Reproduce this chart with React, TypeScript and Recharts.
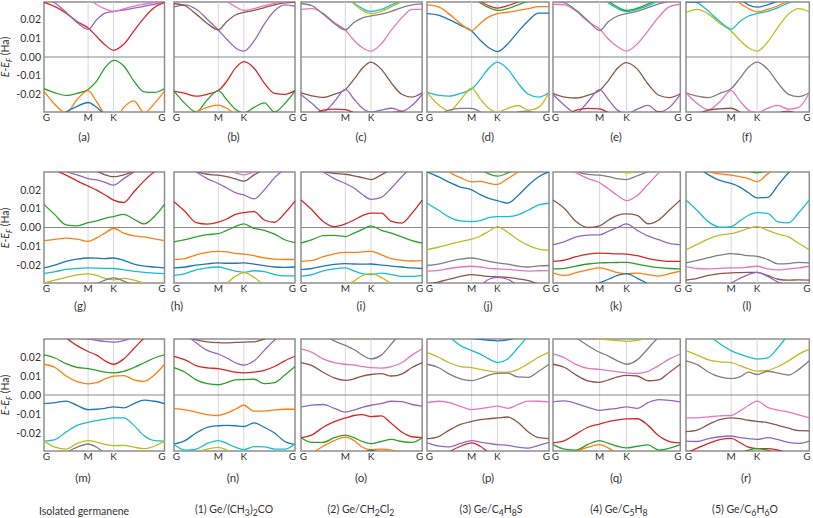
import React from 'react';
import { LineChart, Line, XAxis, YAxis, ReferenceLine, ReferenceArea } from 'recharts';

// matplotlib tab10
const BLUE = '#1f77b4';
const ORANGE = '#ff7f0e';
const GREEN = '#2ca02c';
const RED = '#d62728';
const PURPLE = '#9467bd';
const BROWN = '#8c564b';
const PINK = '#e377c2';
const GRAY = '#7f7f7f';
const OLIVE = '#bcbd22';
const CYAN = '#17becf';

// k-path distance along G-M-K-G (G-M = 1/sqrt3, M-K = 1/3, K-G = 2/3)
const kPath = [0, 0.1443, 0.2887, 0.433, 0.5774, 0.6885, 0.7996, 0.9107, 1.044, 1.1774, 1.3107, 1.444, 1.5774];
const kTicks = [0, 0.5774, 0.9107, 1.5774];
const kM = 0.5774;
const kK = 0.9107;
const kEnd = 1.5774;
// energies in mHa
const eTicks = [-20, -10, 0, 10, 20];
const eMin = -29.5;
const eMax = 29.5;

type Band = { c: string; e: number[] };

const bandsA: Band[] = [
  { c: GREEN, e: [-17, -19.2, -20.6, -19.5, -17.4, -12.9, -5.7, -1.8, -4.8, -12.9, -18.7, -19.0, -17] },
  { c: ORANGE, e: [-18.3, -25.5, -30, -22.8, -18, -24, -31, -35, -27, -23.5, -30, -25, -18.3] },
  { c: BLUE, e: [-38, -34, -29.5, -26.5, -24.4, -27, -31, -35, -38, -38, -38, -38, -38] },
  { c: RED, e: [29.3, 27, 23.5, 19, 15.6, 11, 6.5, 3.6, 6.8, 14, 21, 26.5, 29.3] },
  { c: PURPLE, e: [32, 29, 24, 18.5, 14.8, 20, 23.5, 24.4, 25.2, 26.2, 27.2, 28.2, 30] },
  { c: PINK, e: [40, 38, 36, 34, 32, 28, 25.8, 24.5, 25.8, 27.3, 28.3, 29.2, 30] },
];

const bandsB: Band[] = [
  { c: RED, e: [-18.3, -19.5, -21, -20, -18, -13, -6, -2.5, -6, -14, -19.5, -20, -18] },
  { c: GREEN, e: [-18.3, -25, -29.5, -23, -18, -23, -28, -30, -27, -24.6, -29.5, -25, -18.3] },
  { c: ORANGE, e: [-34, -32, -29.5, -27, -25.8, -27.5, -30.5, -33, -36, -36, -36, -36, -36] },
  { c: PURPLE, e: [26.9, 28, 25.6, 20.3, 14.5, 9.5, 5, 3.2, 8.6, 17.6, 24.8, 28, 27.2] },
  { c: BROWN, e: [28.7, 27.5, 23, 18, 14.6, 19, 22.5, 23.9, 25, 26.5, 28, 29, 29.5] },
  { c: PINK, e: [40, 38, 36, 34, 33, 30, 27, 25, 26, 27.5, 28.8, 29.5, 30] },
];

const bandsC: Band[] = [
  { c: BROWN, e: [-19.2, -20.8, -21.7, -20, -17.4, -12, -6, -2.7, -6.5, -14, -20, -21.5, -19.2] },
  { c: PURPLE, e: [-20.1, -25, -29.3, -24, -17.4, -22.5, -27.5, -29.6, -28.5, -27.5, -29, -26, -20.1] },
  { c: RED, e: [-36, -32, -28.5, -28, -28.2, -30, -33, -35, -31, -29.8, -29.5, -32, -36] },
  { c: PINK, e: [25.6, 26, 23.5, 18.5, 14.5, 9, 5, 3.2, 7, 14.5, 21, 25.5, 25.6] },
  { c: GRAY, e: [28.7, 27.5, 23, 18, 14.6, 18.5, 21, 22, 23, 24.5, 26.5, 28, 28.5] },
  { c: CYAN, e: [40, 39, 38, 36, 34, 29, 26, 24.4, 25.5, 28, 30, 33, 36] },
  { c: OLIVE, e: [40, 39, 37, 35, 33, 28.5, 25, 23.3, 24.5, 27, 29.5, 32, 35] },
];

const bandsD: Band[] = [
  { c: CYAN, e: [-18.8, -20.5, -21, -19.5, -17.2, -12, -6, -2.7, -6.5, -14, -20, -21.5, -19] },
  { c: OLIVE, e: [-19, -25.5, -29, -23, -16.7, -22.5, -27.5, -29.6, -27.5, -26, -28.5, -27, -19] },
  { c: GRAY, e: [-36, -31.5, -28.5, -27.6, -27.6, -29.5, -33, -35, -33, -29.5, -29, -32, -36] },
  { c: BLUE, e: [23.3, 22.5, 20, 17, 14, 9, 5, 2.9, 7, 13.5, 19.5, 23.5, 23.5] },
  { c: ORANGE, e: [28, 27, 23, 18, 14.2, 18, 21.5, 23.3, 24, 25, 26, 27, 27] },
  { c: GREEN, e: [40, 38, 36, 34, 33, 29, 26.5, 25, 26, 28, 30, 32, 34] },
  { c: RED, e: [42, 40, 38, 36, 34, 30, 27.5, 26.2, 27.5, 29.5, 32, 34, 36] },
];

const bandsE: Band[] = [
  { c: BROWN, e: [-19.7, -21.5, -22, -20.5, -18, -12.5, -6, -3, -6.5, -14.5, -20.5, -21.8, -19.7] },
  { c: PURPLE, e: [-20, -26, -30, -24, -17.5, -23, -28.5, -30.5, -28, -26, -29.5, -27, -20] },
  { c: RED, e: [-36, -32, -28.5, -27.6, -27.8, -30, -33, -35, -34, -31, -29.5, -31, -34] },
  { c: PINK, e: [28.3, 28, 24.5, 19, 15, 9.5, 5.5, 3.2, 7, 14, 21.5, 27, 28.3] },
  { c: GRAY, e: [30, 29, 25, 19.5, 14.2, 19, 22, 23.3, 24.5, 26.5, 28.5, 30, 31] },
  { c: CYAN, e: [40, 39, 37, 35, 34, 29, 26, 24.4, 25.5, 27.5, 30, 32, 34] },
  { c: GREEN, e: [41, 40, 38, 36, 35, 30, 26.8, 25, 26.2, 28.5, 31, 33, 35] },
];

const bandsF: Band[] = [
  { c: GRAY, e: [-19.2, -21, -21.8, -19.5, -17, -11.5, -5.5, -2.7, -6.5, -14, -20, -21.3, -19.2] },
  { c: PINK, e: [-19.2, -25, -28.2, -24, -18, -23.5, -28.5, -30, -27.5, -26, -28, -27, -19.2] },
  { c: BROWN, e: [-36, -31, -28.5, -27.8, -27.5, -29.5, -33, -36, -33, -30, -29, -31, -35] },
  { c: OLIVE, e: [23.9, 25.5, 23, 18, 14, 9, 5, 3.2, 8, 16, 23, 26, 24.2] },
  { c: CYAN, e: [31, 29.2, 24.5, 19, 15, 19, 22, 23.3, 24.5, 26.5, 29, 31, 33] },
  { c: ORANGE, e: [40, 39, 37, 35, 34, 29, 26, 24.2, 25.5, 27.5, 30, 32, 34] },
  { c: BLUE, e: [29.6, 29.5, 30.5, 33, 35, 31, 28, 26.8, 28, 30, 32, 34, 36] },
];

const bandsG: Band[] = [
  { c: GREEN, e: [12.3, 6.7, 1.4, 0.9, 2.6, 3.5, 4.9, 5.8, 7, 4.4, 1.9, 5.8, 12.3] },
  { c: ORANGE, e: [-7, -6.3, -5.6, -6.2, -7.4, -5.5, -3, -0.4, -3, -4.5, -5, -6, -7] },
  { c: BLUE, e: [-21.5, -20, -18, -16.8, -16.2, -16.3, -16.5, -16.2, -17.5, -19.5, -20.5, -21, -21.5] },
  { c: CYAN, e: [-24.5, -23.5, -22.3, -21.8, -21.5, -21.6, -21.7, -21.8, -22.5, -23.3, -23.8, -24.2, -24.5] },
  { c: OLIVE, e: [-29.4, -28, -26.5, -25.2, -24.6, -25.5, -27, -27.8, -27, -28, -29.5, -30.5, -29.4] },
  { c: GRAY, e: [-40, -38, -36, -34, -33, -30, -28, -26.8, -28.5, -31, -34, -36, -38] },
  { c: RED, e: [33, 30.5, 27.8, 24.8, 22, 19.9, 17.3, 14.6, 13.3, 19, 24.8, 29.6, 33] },
  { c: PURPLE, e: [40, 36, 30, 28, 26, 25.3, 24, 22.5, 26, 29.5, 33, 36, 40] },
  { c: BROWN, e: [42, 40, 37, 34, 32, 30, 28, 27, 28, 30, 33, 36, 40] },
];

const bandsH: Band[] = [
  { c: RED, e: [13.7, 8.5, 2.6, 1.8, 2.8, 4.5, 7, 7.9, 8.4, 4, 2.8, 7.6, 14] },
  { c: GREEN, e: [-7.7, -6.5, -5, -3.8, -3.3, -1.5, 0.5, 1.9, -0.5, -1.5, -3.5, -6.5, -8] },
  { c: ORANGE, e: [-17, -16.5, -14.5, -13.2, -12.7, -13, -13.8, -14.1, -15, -16.2, -16.8, -17, -17] },
  { c: BLUE, e: [-21.5, -21, -20, -19.3, -18.8, -19, -19, -18.8, -19.5, -20.3, -21, -21.2, -21] },
  { c: CYAN, e: [-25.5, -24.5, -22.5, -21.5, -21, -22, -23.2, -23.8, -23, -23.5, -25, -25.7, -25.7] },
  { c: OLIVE, e: [-40, -38, -36, -33, -31, -29.5, -26, -24, -26.5, -31, -35, -38, -40] },
  { c: PURPLE, e: [36, 33, 29.5, 26, 23.4, 21, 18.5, 17.3, 15.2, 20, 26.5, 31, 35] },
  { c: BROWN, e: [38, 34, 30, 28.3, 27.8, 27, 25.8, 24.6, 28, 31, 34, 37, 40] },
  { c: PINK, e: [42, 40, 38, 36, 34, 31, 29, 28, 29.5, 31, 34, 37, 40] },
];

const bandsI: Band[] = [
  { c: RED, e: [14.6, 9.3, 3.2, 0.5, 1.9, 4, 6.3, 7.6, 7.6, 3.2, 2.3, 7.6, 14.6] },
  { c: GREEN, e: [-8.3, -6.5, -4.3, -4.2, -4.8, -3, -1, 0.9, -1.5, -3, -5, -7, -8.3] },
  { c: ORANGE, e: [-18, -17.5, -15.5, -14, -13.2, -13.2, -13, -12.7, -14.5, -16.5, -17.5, -17.8, -17.6] },
  { c: BLUE, e: [-22.4, -21.8, -20.5, -19.6, -19.2, -19.4, -19.5, -19.4, -20, -20.5, -21, -21.5, -21.8] },
  { c: CYAN, e: [-25.9, -25, -23, -22, -21.5, -23, -24.5, -25, -24.3, -25, -26, -26, -25.5] },
  { c: OLIVE, e: [-40, -38, -36, -33, -31, -28.5, -25.5, -24.5, -26.5, -30, -34, -38, -40] },
  { c: PURPLE, e: [36, 33, 29.5, 26, 23.4, 21, 17.5, 15, 16, 21, 27, 32, 36] },
  { c: BROWN, e: [40, 35, 30, 28.8, 28.3, 27.5, 26.5, 25.5, 28, 31, 34, 37, 40] },
  { c: PINK, e: [42, 40, 38, 36, 34, 31, 30.5, 29.5, 31, 34, 37, 40, 42] },
];

const bandsJ: Band[] = [
  { c: OLIVE, e: [-11.8, -10.5, -9, -7.5, -6.2, -4.5, -2, 0.5, -2.5, -6.5, -9.5, -11.5, -12.1] },
  { c: GRAY, e: [-20.2, -19.5, -18, -16.8, -16.2, -17, -18, -18.8, -19.5, -20.5, -21, -20.4, -20.2] },
  { c: PINK, e: [-23.2, -22.8, -21.8, -21, -20.6, -21, -21.7, -22, -22.3, -22.8, -23.2, -23, -22.9] },
  { c: BROWN, e: [-30, -29, -27.5, -26, -25, -25.5, -26, -26.2, -26.5, -27.3, -28.3, -30, -31] },
  { c: PURPLE, e: [-40, -38, -36, -34, -33, -31, -27.5, -26.5, -27.5, -31, -35, -38, -40] },
  { c: CYAN, e: [12.9, 9.3, 5.5, 3.5, 3.2, 3.7, 5.3, 5.8, 5.8, 6.7, 9.3, 12, 12.9] },
  { c: BLUE, e: [29.6, 27, 24, 21.5, 20, 17.5, 15.5, 14.3, 13, 17, 22.5, 27, 29.6] },
  { c: ORANGE, e: [40, 36, 29.5, 26.5, 24.3, 24.5, 23.5, 22.9, 26, 29.5, 33, 37, 40] },
  { c: GREEN, e: [42, 40, 38, 35, 33, 31, 28.5, 27.3, 29, 32, 35, 38, 42] },
];

const bandsK: Band[] = [
  { c: BROWN, e: [14.6, 10, 3, 0, 0.9, 4, 6.5, 7.2, 6.5, 2, 4, 9.3, 14.6] },
  { c: PURPLE, e: [-9.2, -7.5, -5, -4, -3.9, -2, 0, 1.9, -1.5, -4.5, -6.5, -8.5, -9.2] },
  { c: RED, e: [-18, -17.3, -15.5, -14.2, -13.6, -13.8, -14, -14.1, -15, -16.5, -17.5, -18, -18] },
  { c: GREEN, e: [-22, -21.7, -20.5, -19.4, -18.8, -18.7, -18.6, -18.5, -19.5, -20.5, -21.3, -21.8, -22] },
  { c: ORANGE, e: [-24.1, -25.5, -24, -22.5, -21.5, -22.5, -24, -24.6, -24.3, -25, -25.8, -24.5, -23.2] },
  { c: BLUE, e: [-40, -38, -35, -32, -29.4, -27.5, -25.5, -24.5, -27, -30, -34, -38, -40] },
  { c: PINK, e: [35, 32, 29, 26, 23.8, 20.5, 17, 14.3, 17, 23, 29, 33, 36] },
  { c: GRAY, e: [40, 35, 30, 28.2, 27.8, 27, 26, 25.5, 27.5, 29.8, 33, 36, 40] },
  { c: OLIVE, e: [42, 40, 38, 35, 33, 31, 30, 29, 30, 32, 35, 38, 42] },
];

const bandsL: Band[] = [
  { c: CYAN, e: [14.6, 9, 3, 0.2, 0.5, 3.5, 6.5, 7.9, 7.5, 3, 2.5, 8, 14.6] },
  { c: OLIVE, e: [-11.8, -9, -6, -4, -3.3, -2, -0.5, 0.5, -1.5, -3.5, -5, -8.5, -11.8] },
  { c: GRAY, e: [-18.8, -17.5, -16, -14.7, -13.9, -14.3, -15, -15.3, -17, -19.3, -19.2, -18.5, -18.8] },
  { c: PINK, e: [-20.6, -21.8, -22, -21.7, -21.5, -21.5, -21, -20.6, -22, -22.5, -22, -21.5, -20.6] },
  { c: BROWN, e: [-28, -27, -25.5, -24.5, -24.1, -24, -23.9, -23.8, -25.5, -27.5, -28, -27.8, -28] },
  { c: PURPLE, e: [-40, -37, -34, -31.5, -29.5, -27, -25, -23.9, -26, -29, -31, -35, -38] },
  { c: BLUE, e: [35, 32, 28, 25, 23.4, 21.5, 18.5, 15.8, 16, 22.5, 29, 33, 36] },
  { c: ORANGE, e: [38, 34, 29.5, 28.5, 27.8, 27, 26, 24.3, 28.5, 32, 35, 38, 40] },
  { c: GREEN, e: [42, 40, 38, 35, 33, 31, 30, 29, 30.5, 33, 36, 39, 42] },
];

const bandsM: Band[] = [
  { c: GREEN, e: [21.1, 19.5, 16.5, 14.5, 13.9, 13, 12, 11.7, 12.5, 14.5, 17, 19.5, 21.1] },
  { c: ORANGE, e: [16.2, 14.5, 10, 7, 5.9, 6.5, 8.5, 9.9, 10.2, 8, 7.2, 10.5, 16.2] },
  { c: RED, e: [36, 33, 30, 26, 22.9, 21, 18, 16.2, 19, 24.5, 30, 34, 38] },
  { c: PURPLE, e: [34, 32, 31, 30, 29.4, 28.8, 28.2, 27.9, 28.7, 30.5, 32, 34, 36] },
  { c: BLUE, e: [-4.5, -4, -3.2, -5.5, -7.7, -7.5, -7, -6.3, -6.8, -4.5, -2.7, -3.3, -4.5] },
  { c: CYAN, e: [-24.3, -23.5, -19.5, -16, -14.4, -13.5, -12.7, -12.1, -12, -16, -21.5, -24, -24.3] },
  { c: OLIVE, e: [-24.3, -27.5, -28.5, -25.5, -24, -24.8, -26, -26.7, -26.5, -27.5, -28.3, -27, -24.3] },
  { c: GRAY, e: [-40, -37, -30.5, -27.5, -25.8, -27.5, -30.5, -33, -36, -38, -40, -40, -40] },
];

const bandsN: Band[] = [
  { c: PURPLE, e: [36, 32, 27.5, 23.5, 21.6, 19.5, 17, 15.7, 18, 23.5, 29, 33, 36] },
  { c: BROWN, e: [34, 31, 29, 28, 27.6, 27.5, 27.7, 27.9, 28, 29.5, 31, 33, 35] },
  { c: RED, e: [20.4, 18.5, 15.5, 14.3, 13.9, 13, 12, 11.7, 12, 13, 15, 18, 20.4] },
  { c: GREEN, e: [14.4, 12, 8, 6, 5.4, 6.5, 8, 8.1, 8.3, 6, 6.5, 10.5, 15] },
  { c: ORANGE, e: [-7.2, -7.8, -9, -10.3, -10.8, -9.5, -7.5, -5.4, -8.5, -8.5, -7.8, -7.5, -7.5] },
  { c: BLUE, e: [-25.8, -24, -20, -17, -16.2, -16, -16.2, -16.6, -14.7, -17, -20, -24.5, -26] },
  { c: CYAN, e: [-26.1, -29, -28.5, -25.5, -24, -25.5, -27.5, -28.8, -27.2, -27.3, -28.5, -28.5, -25.8] },
  { c: OLIVE, e: [-40, -36, -30.5, -28.5, -27.6, -29, -31, -34, -38, -40, -40, -40, -40] },
];

const bandsO: Band[] = [
  { c: GRAY, e: [38, 35, 32, 28.5, 26.1, 24, 21, 19, 21, 27, 33, 36, 40] },
  { c: OLIVE, e: [36, 34, 32, 31, 29.8, 29.6, 29.8, 30.5, 32, 34, 36, 38, 40] },
  { c: PINK, e: [24.3, 22.5, 19, 17, 16.2, 15.8, 15, 14.4, 14.2, 15, 17, 21, 24.3] },
  { c: BROWN, e: [17.1, 15.5, 12, 9, 7.7, 8.5, 10, 10.8, 11.3, 10, 11, 14.5, 17.1] },
  { c: PURPLE, e: [-6.3, -5.3, -5, -7, -9, -8, -6.5, -5.4, -4.5, -3.3, -3.5, -5, -5.9] },
  { c: RED, e: [-22.5, -21, -17, -14, -12.1, -10.8, -10.3, -11.4, -11, -15, -19.5, -22, -22.5] },
  { c: GREEN, e: [-22.5, -25, -25, -22.5, -21.1, -22.5, -24.5, -25.6, -24.5, -23.4, -24.5, -25, -22.5] },
  { c: ORANGE, e: [-33, -30.5, -27, -24, -22.2, -24, -27.5, -28.8, -28.5, -29, -30.5, -33, -36] },
  { c: BLUE, e: [-40, -38, -36, -34, -33, -31, -30.5, -29, -31, -34, -37, -40, -40] },
];

const bandsP: Band[] = [
  { c: CYAN, e: [37, 34, 30.5, 26, 23.4, 21.5, 19, 17.1, 19, 25, 31, 35, 38] },
  { c: BLUE, e: [34, 32, 31, 30, 29.7, 29.3, 28.8, 28.5, 29, 30.5, 32, 34, 36] },
  { c: OLIVE, e: [22.5, 20, 17, 15, 14.4, 13.5, 12.7, 12.1, 12.1, 13.5, 16.5, 20, 22.5] },
  { c: GRAY, e: [16.2, 14.5, 11, 8.5, 7.6, 8.7, 10.5, 11.4, 11.5, 9.5, 9.3, 12.5, 16.2] },
  { c: PINK, e: [-4.1, -3.3, -4, -6, -7.7, -7.2, -6.5, -5.9, -7, -5, -3.2, -3.3, -3.6] },
  { c: BROWN, e: [-23, -22, -18.5, -15.5, -13.9, -13, -12.5, -12.1, -11.6, -14.5, -19.5, -22.5, -23] },
  { c: PURPLE, e: [-25.2, -26.8, -27.3, -25.5, -24, -24.8, -25.5, -26.1, -26.5, -27.5, -28, -26.5, -24.9] },
  { c: RED, e: [-40, -35, -30, -27, -25.2, -27, -30.5, -34, -38, -40, -40, -40, -40] },
  { c: GREEN, e: [-40, -38, -36, -34, -33, -31, -31, -29.7, -31, -34, -37, -40, -40] },
];

const bandsQ: Band[] = [
  { c: GRAY, e: [36, 33, 30, 26, 22.5, 20.5, 18, 16.2, 18.5, 24.5, 30.5, 34, 38] },
  { c: OLIVE, e: [34, 32, 30.5, 29.8, 29.4, 29, 28.6, 28.3, 28.8, 30, 32, 34, 36] },
  { c: PINK, e: [21.6, 19.5, 16, 14, 13.5, 12.8, 12.2, 11.7, 11.4, 12.5, 15.5, 19, 21.6] },
  { c: BROWN, e: [16.2, 14.5, 10.5, 7.5, 6.7, 8, 9.5, 10.3, 10, 7.5, 8, 12, 16.2] },
  { c: PURPLE, e: [-3.6, -3.1, -4.5, -6.5, -8.1, -7.5, -7, -6.3, -7, -4, -2.4, -2.8, -3.6] },
  { c: RED, e: [-25.2, -24, -20.5, -17, -15.3, -14, -13.2, -12.6, -12.5, -16, -21.5, -24.5, -25.2] },
  { c: GREEN, e: [-26.1, -28.5, -29, -26, -24, -25.5, -27, -27.9, -27, -26.3, -29, -28, -26.1] },
  { c: ORANGE, e: [-40, -35, -30, -27.5, -26.1, -28, -31, -34, -38, -40, -40, -40, -40] },
];

const bandsR: Band[] = [
  { c: CYAN, e: [38, 35, 31.5, 27, 23.4, 21.5, 20, 18.9, 19.5, 25, 31.5, 35, 38] },
  { c: OLIVE, e: [23.4, 21, 18.5, 17.5, 17.1, 15.5, 13.8, 12.6, 13, 15, 18, 21.5, 24] },
  { c: GRAY, e: [18, 16, 12, 9.5, 8.6, 9.5, 12, 10.8, 12.5, 11.5, 10.5, 13.5, 18] },
  { c: PINK, e: [-12.1, -12, -11.5, -11, -10.8, -8.5, -5.5, -3.2, -6.5, -8, -9, -10.5, -12.1] },
  { c: BROWN, e: [-19.3, -18.5, -15.5, -13, -12.1, -12.5, -13.3, -13.9, -14.5, -16, -17.5, -18.8, -18.9] },
  { c: PURPLE, e: [-24.3, -24.5, -23, -22, -21.6, -22.5, -23, -23.4, -22.5, -23.5, -25, -25.5, -24.3] },
  { c: RED, e: [-30.6, -28, -25.5, -23.5, -22.9, -25, -27.5, -28.3, -28.2, -29, -30.5, -31, -30.6] },
  { c: GREEN, e: [-40, -38, -35, -33, -31, -30.5, -29, -28.3, -29, -31, -34, -38, -40] },
];

const panelBands = [
  [bandsA, bandsB, bandsC, bandsD, bandsE, bandsF],
  [bandsG, bandsH, bandsI, bandsJ, bandsK, bandsL],
  [bandsM, bandsN, bandsO, bandsP, bandsQ, bandsR],
];
const panelNames = [
  ['(a)', '(b)', '(c)', '(d)', '(e)', '(f)'],
  ['(g)', '(h)', '(i)', '(j)', '(k)', '(l)'],
  ['(m)', '(n)', '(o)', '(p)', '(q)', '(r)'],
];

// layout (px)
const COLS = [[43.5, 164], [173.5, 294.5], [300.5, 421.7], [427, 549], [552.7, 680], [686, 809.3]];
const ROWS = [[2, 112], [172, 283], [339, 451]];
const nameX = [
  [84, 233.5, 361, 488, 616, 747],
  [80, 177, 361, 488, 616, 747],
  [83, 233, 361, 488, 616, 746],
];
const nameY = [137, 306, 478];
const captionX = [84, 234, 361, 491, 619, 745];

const FONT = 'Lato, "Open Sans", sans-serif';
const TEXT = '#333';

const kLabel = (v: number) => (Math.abs(v - kM) < 0.01 ? 'M' : Math.abs(v - kK) < 0.01 ? 'K' : 'G');

// G labels at the two ends sit a little inside the frame
const KTick = (props: any) => {
  const v = props.payload.value;
  const dx = v < 0.01 ? 2.5 : v > kEnd - 0.01 ? -2.5 : 0;
  return (
    <text x={props.x + dx} y={props.y} dy="0.71em" textAnchor="middle" fontSize={10} fill={TEXT} fontFamily={FONT}>
      {kLabel(v)}
    </text>
  );
};

function Panel({ row, col }: { row: number; col: number }) {
  const bands = panelBands[row][col];
  const [x0, x1] = COLS[col];
  const [y0, y1] = ROWS[row];
  const first = col === 0;
  const yw = first ? 40 : 0;
  const padL = first ? 0 : 6;
  const padR = 6;
  const padT = 2;
  const xh = 14;
  const data = kPath.map((k, i) => {
    const pt: any = { k };
    bands.forEach((b, j) => {
      pt['b' + j] = b.e[i];
    });
    return pt;
  });
  return (
    <div style={{ position: 'absolute', left: x0 - yw - padL, top: y0 - padT }}>
      <LineChart
        width={x1 - x0 + yw + padL + padR}
        height={y1 - y0 + padT + xh}
        data={data}
        margin={{ top: padT, right: padR, bottom: 0, left: padL }}
      >
        <XAxis
          dataKey="k"
          type="number"
          domain={[0, kEnd]}
          ticks={kTicks}
          interval={0}
          tickLine={false}
          axisLine={false}
          tickSize={0}
          tickMargin={2}
          height={xh}
          tick={KTick}
        />
        <YAxis
          type="number"
          domain={[eMin, eMax]}
          allowDataOverflow
          ticks={eTicks}
          hide={!first}
          width={yw}
          tickFormatter={(v: number) => (v / 1000).toFixed(2)}
          tickLine={false}
          axisLine={false}
          tickSize={2}
          tickMargin={1}
          tick={{ fontSize: 10.5, fill: TEXT, fontFamily: FONT }}
        />
        <ReferenceLine x={kM} stroke="#d6d6e4" strokeWidth={1} />
        <ReferenceLine x={kK} stroke="#d6d6e4" strokeWidth={1} />
        <ReferenceLine y={0} stroke="#8a8a8a" strokeWidth={1.2} />
        {bands.map((b, j) => (
          <Line
            key={j}
            dataKey={'b' + j}
            type="monotone"
            stroke={b.c}
            strokeWidth={1.3}
            dot={false}
            activeDot={false}
            isAnimationActive={false}
          />
        ))}
        <ReferenceArea x1={0} x2={kEnd} y1={eMin} y2={eMax} fill="none" stroke="#8f8f8f" strokeWidth={1.5} />
      </LineChart>
    </div>
  );
}

const captions = [
  <>Isolated germanene</>,
  <>(1) Ge/(CH<sub>3</sub>)<sub>2</sub>CO</>,
  <>(2) Ge/CH<sub>2</sub>Cl<sub>2</sub></>,
  <>(3) Ge/C<sub>4</sub>H<sub>8</sub>S</>,
  <>(4) Ge/C<sub>5</sub>H<sub>8</sub></>,
  <>(5) Ge/C<sub>6</sub>H<sub>6</sub>O</>,
];

const center: React.CSSProperties = {
  position: 'absolute',
  transform: 'translate(-50%, -50%)',
  whiteSpace: 'nowrap',
  fontSize: 11.5,
  color: TEXT,
  lineHeight: 1,
};

export default function App() {
  return (
    <div style={{ position: 'absolute', left: 0, top: 0, width: 813, height: 518, background: '#fff', fontFamily: FONT }}>
      {ROWS.map((r, row) => (
        <React.Fragment key={row}>
          {COLS.map((_, col) => (
            <Panel key={col} row={row} col={col} />
          ))}
          <div
            style={{
              ...center,
              left: 7,
              top: (r[0] + r[1]) / 2,
              transform: 'translate(-50%, -50%) rotate(-90deg)',
              fontSize: 10.5,
            }}
          >
            <i>E</i>-<i>E</i>
            <sub style={{ fontSize: 7.5 }}>
              <i>F</i>
            </sub>{' '}
            (Ha)
          </div>
          {panelNames[row].map((n, col) => (
            <div key={n} style={{ ...center, left: nameX[row][col], top: nameY[row] }}>
              {n}
            </div>
          ))}
        </React.Fragment>
      ))}
      {captions.map((c, i) => (
        <div key={i} style={{ ...center, left: captionX[i], top: 511, fontSize: 10.5 }}>
          {c}
        </div>
      ))}
    </div>
  );
}
